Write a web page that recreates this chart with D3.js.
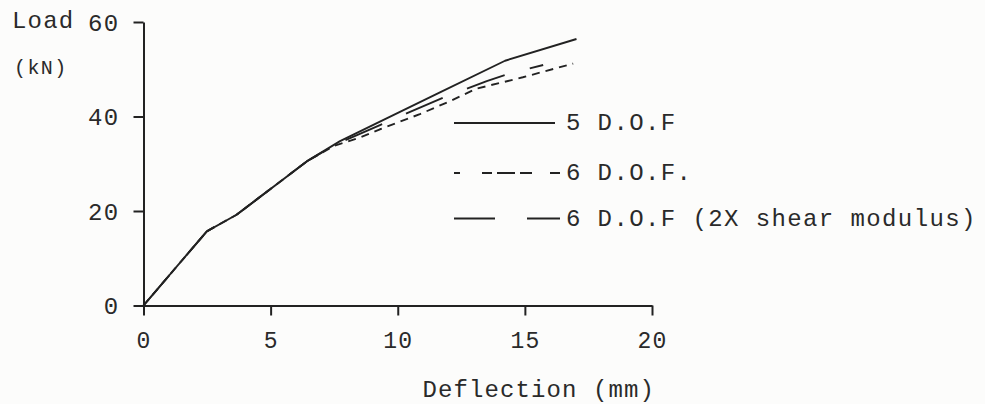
<!DOCTYPE html>
<html>
<head>
<meta charset="utf-8">
<script src="https://cdn.jsdelivr.net/npm/d3@7"></script>
<style>
  html, body { margin: 0; padding: 0; background: #fcfcfb; }
  svg { display: block; }
  text { font-family: "Liberation Mono", "DejaVu Sans Mono", monospace; fill: #2a2a2a; }
</style>
</head>
<body>
<svg id="chart" width="985" height="404"></svg>
<script>
// ---- data (deflection mm, load kN) ----
const xTicks = [0, 5, 10, 15, 20];
const yTicks = [0, 20, 40, 60];

const seriesNames = ["5 D.O.F", "6 D.O.F.", "6 D.O.F (2X shear modulus)"];

const dof5 = [[0,0],[2.49,15.7],[3.66,19.2],[6.42,30.5],[7.73,34.8],[9.3,38.9],[11.66,45.1],[14.22,51.8],[17.03,56.4]];
const dof6 = [[0,0],[2.49,15.7],[3.66,19.2],[6.42,30.5],[7.5,33.8],[8.5,35.5],[9.3,37.3],[10.87,40.5],[12.12,43.4],[13.1,45.9],[14.09,47.2],[14.92,48.3],[16.9,51.2]];
const dof6shear = [[0,0],[2.49,15.7],[3.66,19.2],[6.42,30.5],[7.6,34.2],[9.3,38.2],[11.79,44.0],[13.5,47.5],[14.41,49.1],[15.72,50.9]];

const svg = d3.select("#chart");
const ink = "#222";

const x = d3.scaleLinear().domain([0, 20]).range([143.5, 652]);
const y = d3.scaleLinear().domain([0, 60]).range([305.5, 22]);

// x axis
const gx = svg.append("g").attr("transform", `translate(0,${y(0)})`)
  .call(d3.axisBottom(x).tickValues(xTicks).tickSize(10).tickSizeOuter(0).tickFormat(d3.format("d")));
gx.select(".domain").attr("stroke", ink).attr("stroke-width", 2);
gx.selectAll(".tick line").attr("stroke", ink).attr("stroke-width", 2);
gx.selectAll(".tick text").attr("y", 42).attr("dy", 0)
  .style("font-size", "23px").style("letter-spacing", "1.2px").attr("fill", "#2a2a2a")
  .style("font-family", "Liberation Mono, monospace");

// y axis
const gy = svg.append("g").attr("transform", `translate(${x(0)},0)`)
  .call(d3.axisLeft(y).tickValues(yTicks).tickSize(10).tickSizeOuter(0).tickFormat(d3.format("d")));
gy.select(".domain").attr("stroke", ink).attr("stroke-width", 2);
gy.selectAll(".tick line").attr("stroke", ink).attr("stroke-width", 2);
gy.selectAll(".tick text").attr("x", -24).attr("dy", "0.35em")
  .style("font-size", "24px").style("letter-spacing", "1.3px").attr("fill", "#2a2a2a")
  .style("font-family", "Liberation Mono, monospace");

// axis titles
svg.append("text").attr("x", 12).attr("y", 28).style("font-size", "24px").style("letter-spacing", "1.2px").text("Load");
svg.append("text").attr("x", 14).attr("y", 74).style("font-size", "20px").style("letter-spacing", "1.4px").text("(kN)");
svg.append("text").attr("x", 655).attr("y", 397).attr("text-anchor", "end")
  .style("font-size", "24px").style("letter-spacing", "1.1px").text("Deflection (mm)");

// curves
const line = d3.line().x(d => x(d[0])).y(d => y(d[1]));
const styles = [
  { data: dof5, dash: null },
  { data: dof6, dash: "8,6" },
  { data: dof6shear, dash: "40,26" }
];
styles.forEach(s => {
  svg.append("path").datum(s.data).attr("d", line)
    .attr("fill", "none").attr("stroke", ink).attr("stroke-width", 1.9)
    .attr("stroke-linejoin", "round")
    .attr("stroke-dasharray", s.dash);
});

// legend
const legRows = [
  { y: 123, text: seriesNames[0], dash: null, x2: 555 },
  { y: 173, text: seriesNames[1], dash: "6,22,10,5,18,5,12,18,10", x2: 560 },
  { y: 218.5, text: seriesNames[2], dash: "41,32,33", x2: 560 }
];
legRows.forEach(r => {
  svg.append("line").attr("x1", 454).attr("x2", r.x2).attr("y1", r.y).attr("y2", r.y)
    .attr("stroke", ink).attr("stroke-width", 1.9).attr("stroke-dasharray", r.dash);
  svg.append("text").attr("x", 566).attr("y", r.y + 7)
    .style("font-size", "24px").style("letter-spacing", "1.4px").text(r.text);
});
</script>
</body>
</html>
